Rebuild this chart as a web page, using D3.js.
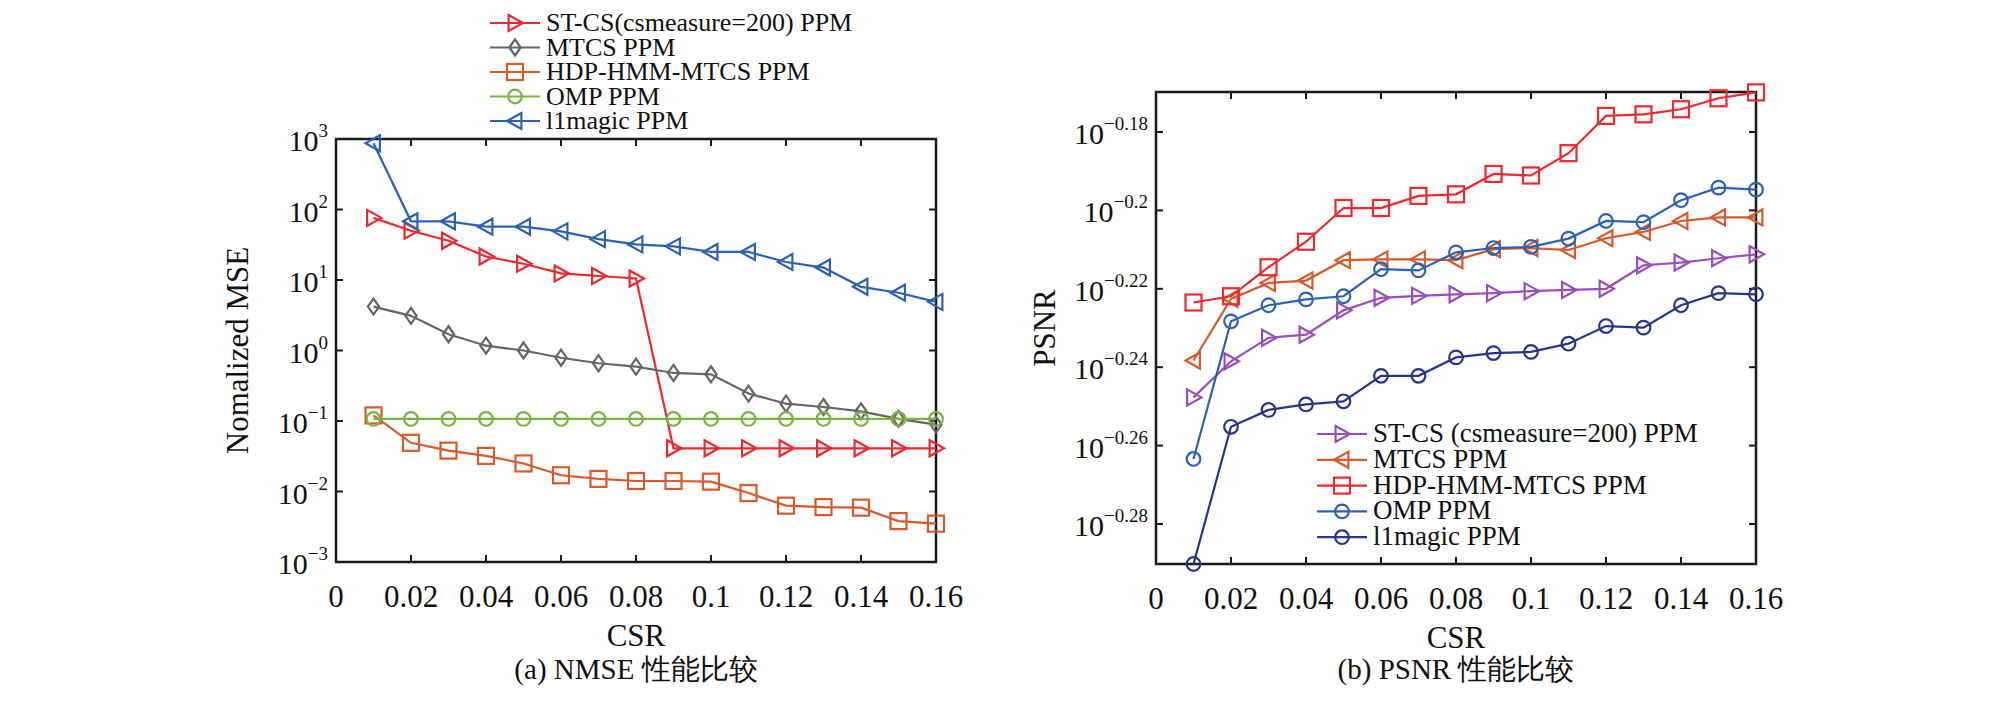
<!DOCTYPE html>
<html>
<head>
<meta charset="UTF-8">
<title>NMSE / PSNR</title>
<script src="https://cdn.jsdelivr.net/npm/d3@7"></script>
<style>
  body { margin: 0; background: #fff; }
  svg text { font-family: "Liberation Serif", "Times New Roman", Times, "DejaVu Serif", serif; fill: #111; }
</style>
</head>
<body>
<script>
// data
var csr = [0.01, 0.02, 0.03, 0.04, 0.05, 0.06, 0.07, 0.08, 0.09, 0.10, 0.11, 0.12, 0.13, 0.14, 0.15, 0.16];
var xTicks = [0, 0.02, 0.04, 0.06, 0.08, 0.1, 0.12, 0.14, 0.16];

// (a) NMSE, plain values
var nmseStcs   = [76, 50, 36, 21.5, 17, 12.4, 11.4, 10.5, 0.041, 0.041, 0.041, 0.041, 0.041, 0.041, 0.041, 0.041];
var nmseMtcs   = [4.2, 3.1, 1.7, 1.17, 1.0, 0.79, 0.66, 0.59, 0.48, 0.46, 0.245, 0.176, 0.158, 0.137, 0.107, 0.089];
var nmseHdp    = [0.12, 0.049, 0.038, 0.032, 0.025, 0.017, 0.0151, 0.0141, 0.0141, 0.0138, 0.0095, 0.0063, 0.006, 0.0059, 0.0038, 0.0035];
var nmseOmp    = [0.107, 0.107, 0.107, 0.107, 0.107, 0.107, 0.107, 0.107, 0.107, 0.107, 0.107, 0.107, 0.107, 0.107, 0.107, 0.107];
var nmseL1     = [870, 68, 68, 57, 57, 49, 38, 32, 30, 25, 25, 18, 15, 8, 6.6, 4.9];
var nmseTicks  = [-3, -2, -1, 0, 1, 2, 3];

// (b) PSNR, stored as log10 exponents
var psnrStcs = [-0.2477, -0.2385, -0.2325, -0.2317, -0.2255, -0.2223, -0.2218, -0.2214, -0.2211, -0.2206, -0.2203, -0.2200, -0.2140, -0.2133, -0.2122, -0.2112];
var psnrMtcs = [-0.2383, -0.2226, -0.2185, -0.2179, -0.2127, -0.2125, -0.2125, -0.2127, -0.2099, -0.2096, -0.2101, -0.2071, -0.2055, -0.2027, -0.2018, -0.2018];
var psnrHdp  = [-0.2235, -0.2219, -0.2145, -0.2080, -0.1994, -0.1994, -0.1963, -0.1959, -0.1907, -0.1911, -0.1854, -0.1759, -0.1755, -0.1742, -0.1714, -0.1699];
var psnrOmp  = [-0.2634, -0.2283, -0.2242, -0.2227, -0.2219, -0.2150, -0.2153, -0.2107, -0.2096, -0.2093, -0.2072, -0.2027, -0.2030, -0.1974, -0.1942, -0.1947];
var psnrL1   = [-0.2902, -0.2552, -0.2509, -0.2495, -0.2487, -0.2422, -0.2422, -0.2375, -0.2364, -0.2361, -0.2340, -0.2295, -0.2299, -0.2242, -0.2211, -0.2214];
var psnrTicks = [-0.28, -0.26, -0.24, -0.22, -0.2, -0.18];

var svg = d3.select('body').append('svg').attr('width', 2008).attr('height', 704)
  .attr('font-family', '"Liberation Serif", "Times New Roman", serif');

// marker shapes
function marker(g, shape, color) {
  var r = 8;
  if (shape === 'tri-right') g.append('path').attr('d', 'M' + (-r*0.8) + ',' + (-r) + 'L' + r + ',0L' + (-r*0.8) + ',' + r + 'Z');
  else if (shape === 'tri-left') g.append('path').attr('d', 'M' + (r*0.8) + ',' + (-r) + 'L' + (-r) + ',0L' + (r*0.8) + ',' + r + 'Z');
  else if (shape === 'square') g.append('rect').attr('x', -r).attr('y', -r).attr('width', 2*r).attr('height', 2*r);
  else if (shape === 'diamond') g.append('path').attr('d', 'M0,' + (-r) + 'L' + (r*0.7) + ',0L0,' + r + 'L' + (-r*0.7) + ',0Z');
  else g.append('circle').attr('r', r*0.85);
  g.selectAll('*').attr('fill', 'none').attr('stroke', color).attr('stroke-width', 2.2);
}

function panel(opt) {
  var x = d3.scaleLinear().domain([0, 0.16]).range([opt.left, opt.right]);
  var y = opt.y;
  var g = svg.append('g');

  // frame
  g.append('rect').attr('x', opt.left).attr('y', opt.top)
    .attr('width', opt.right - opt.left).attr('height', opt.bottom - opt.top)
    .attr('fill', 'none').attr('stroke', '#1a1a1a').attr('stroke-width', 2.5);

  // inward ticks on all sides
  xTicks.forEach(function(t) {
    g.append('line').attr('x1', x(t)).attr('x2', x(t)).attr('y1', opt.bottom).attr('y2', opt.bottom - 7).attr('stroke', '#1a1a1a').attr('stroke-width', 2);
    g.append('line').attr('x1', x(t)).attr('x2', x(t)).attr('y1', opt.top).attr('y2', opt.top + 7).attr('stroke', '#1a1a1a').attr('stroke-width', 2);
    g.append('text').attr('x', x(t)).attr('y', opt.bottom + 45).attr('text-anchor', 'middle')
      .attr('font-size', 31).text(t === 0 ? '0' : String(t));
  });
  opt.yTicks.forEach(function(t) {
    g.append('line').attr('x1', opt.left).attr('x2', opt.left + 7).attr('y1', y(t)).attr('y2', y(t)).attr('stroke', '#1a1a1a').attr('stroke-width', 2);
    g.append('line').attr('x1', opt.right).attr('x2', opt.right - 7).attr('y1', y(t)).attr('y2', y(t)).attr('stroke', '#1a1a1a').attr('stroke-width', 2);
    var lab = g.append('text').attr('x', opt.left - 8).attr('y', y(t) + 12).attr('text-anchor', 'end').attr('font-size', 30);
    lab.append('tspan').text('10');
    lab.append('tspan').attr('dy', -14).attr('font-size', 19).text(opt.expLabel(t));
  });

  // axis titles
  g.append('text').attr('x', (opt.left + opt.right) / 2).attr('y', opt.bottom + 84)
    .attr('text-anchor', 'middle').attr('font-size', 31).text('CSR');
  g.append('text').attr('transform', 'translate(' + opt.ytitleX + ',' + ((opt.top + opt.bottom) / 2) + ') rotate(-90)')
    .attr('text-anchor', 'middle').attr('font-size', 31).text(opt.ytitle);
  g.append('text').attr('x', (opt.left + opt.right) / 2).attr('y', 679)
    .attr('text-anchor', 'middle').attr('font-size', 29).text(opt.caption);

  var line = d3.line().x(function(d, i) { return x(csr[i]); }).y(function(d) { return y(d); });
  opt.series.forEach(function(s) {
    g.append('path').datum(s.values).attr('d', line)
      .attr('fill', 'none').attr('stroke', s.color).attr('stroke-width', 2.2);
    s.values.forEach(function(v, i) {
      marker(g.append('g').attr('transform', 'translate(' + x(csr[i]) + ',' + y(v) + ')'), s.shape, s.color);
    });
  });

  // legend
  opt.series.forEach(function(s, i) {
    var ly = opt.legY + i * opt.legStep;
    g.append('line').attr('x1', opt.legX).attr('x2', opt.legX + 50).attr('y1', ly).attr('y2', ly)
      .attr('stroke', s.color).attr('stroke-width', 2.2);
    marker(g.append('g').attr('transform', 'translate(' + (opt.legX + 25) + ',' + ly + ')'), s.shape, s.color);
    g.append('text').attr('x', opt.legX + 56).attr('y', ly + 8).attr('font-size', opt.legFont).text(s.name);
  });
}

var red = '#ec2a2e', gray = '#666666', orange = '#d75a2b', green = '#78b443', blue = '#2c62b5', purple = '#9b4dbd', navy = '#25378a';

panel({
  left: 336, right: 936, top: 139, bottom: 562,
  y: d3.scaleLog().domain([1e-3, 1e3]).range([562, 139]),
  yTicks: nmseTicks.map(function(k) { return Math.pow(10, k); }),
  expLabel: function(t) { var k = Math.round(Math.log10(t)); return k < 0 ? '\u2212' + (-k) : String(k); },
  ytitle: 'Nomalized MSE', ytitleX: 248,
  caption: '(a) NMSE 性能比较',
  legX: 490, legY: 23, legStep: 24.5, legFont: 26,
  series: [
    {name: 'ST-CS(csmeasure=200) PPM', values: nmseStcs, color: red, shape: 'tri-right'},
    {name: 'MTCS PPM', values: nmseMtcs, color: gray, shape: 'diamond'},
    {name: 'HDP-HMM-MTCS PPM', values: nmseHdp, color: orange, shape: 'square'},
    {name: 'OMP PPM', values: nmseOmp, color: green, shape: 'circle'},
    {name: 'l1magic PPM', values: nmseL1, color: blue, shape: 'tri-left'}
  ]
});

panel({
  left: 1156, right: 1756, top: 92, bottom: 564,
  y: d3.scaleLinear().domain([-0.2902, -0.1698]).range([564, 92]),
  yTicks: psnrTicks,
  expLabel: function(t) { return '\u2212' + String(-t); },
  ytitle: 'PSNR', ytitleX: 1055,
  caption: '(b) PSNR 性能比较',
  legX: 1317, legY: 434, legStep: 25.8, legFont: 27,
  series: [
    {name: 'ST-CS (csmeasure=200) PPM', values: psnrStcs, color: purple, shape: 'tri-right'},
    {name: 'MTCS PPM', values: psnrMtcs, color: orange, shape: 'tri-left'},
    {name: 'HDP-HMM-MTCS PPM', values: psnrHdp, color: red, shape: 'square'},
    {name: 'OMP PPM', values: psnrOmp, color: blue, shape: 'circle'},
    {name: 'l1magic PPM', values: psnrL1, color: navy, shape: 'circle'}
  ]
});
</script>
</body>
</html>
